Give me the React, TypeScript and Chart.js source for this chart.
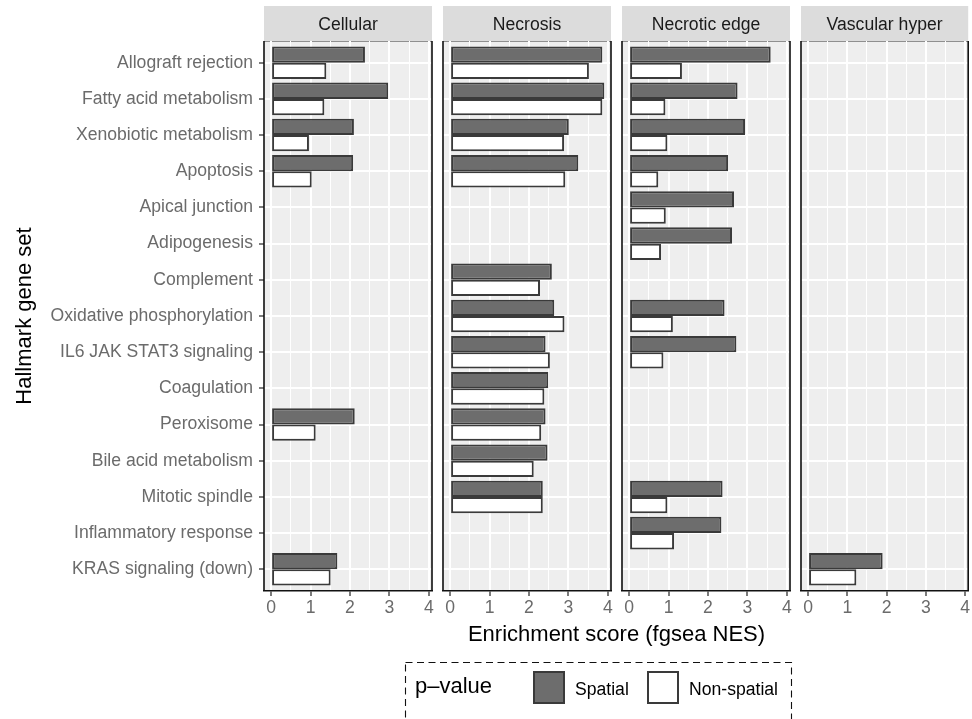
import React, { useEffect, useRef } from 'react';
import { Chart, registerables } from 'chart.js';

Chart.register(...registerables);

// ---------------- data ----------------
const categories = [
  'Allograft rejection',
  'Fatty acid metabolism',
  'Xenobiotic metabolism',
  'Apoptosis',
  'Apical junction',
  'Adipogenesis',
  'Complement',
  'Oxidative phosphorylation',
  'IL6 JAK STAT3 signaling',
  'Coagulation',
  'Peroxisome',
  'Bile acid metabolism',
  'Mitotic spindle',
  'Inflammatory response',
  'KRAS signaling (down)',
];

const facetTitles = ['Cellular', 'Necrosis', 'Necrotic edge', 'Vascular hyper'];
const seriesLabels = ['Spatial', 'Non-spatial'];

const cellularSpatial = [2.38, 2.97, 2.1, 2.08, null, null, null, null, null, null, 2.12, null, null, null, 1.68];
const cellularNonSpatial = [1.4, 1.35, 0.96, 1.03, null, null, null, null, null, null, 1.13, null, null, null, 1.51];

const necrosisSpatial = [3.86, 3.91, 3.01, 3.25, null, null, 2.58, 2.64, 2.42, 2.49, 2.42, 2.47, 2.35, null, null];
const necrosisNonSpatial = [3.52, 3.86, 2.89, 2.92, null, null, 2.28, 2.9, 2.53, 2.39, 2.31, 2.12, 2.35, null, null];

const edgeSpatial = [3.59, 2.75, 2.94, 2.51, 2.66, 2.61, null, 2.42, 2.72, null, null, null, 2.37, 2.34, null];
const edgeNonSpatial = [1.34, 0.92, 0.97, 0.74, 0.93, 0.81, null, 1.11, 0.87, null, null, null, 0.97, 1.14, null];

const vascularSpatial = [null, null, null, null, null, null, null, null, null, null, null, null, null, null, 1.9];
const vascularNonSpatial = [null, null, null, null, null, null, null, null, null, null, null, null, null, null, 1.23];

const xMajorTicks = [0, 1, 2, 3, 4];
const xMinorTicks = [0.5, 1.5, 2.5, 3.5];

const xTitle = 'Enrichment score (fgsea NES)';
const yTitle = 'Hallmark gene set';
const legendTitle = 'p\u2013value';

// ---------------- layout / style ----------------
const W = 972;
const H = 719;
const FONT = '"Liberation Sans", Arial, Helvetica, sans-serif';
const PANEL_TOP = 41;
const PANEL_BOTTOM = 591;
const STRIP_H = 35;
const X_AXIS_H = 30;
const panelX = [
  [264, 432],
  [443, 611],
  [622, 790],
  [801, 969],
];
const SPATIAL_FILL = '#6d6d6d';
const NON_FILL = '#ffffff';
const BAR_BORDER = '#3a3a3a';
const TICK_TEXT = '#6b6b6b';

const series = [
  [cellularSpatial, cellularNonSpatial],
  [necrosisSpatial, necrosisNonSpatial],
  [edgeSpatial, edgeNonSpatial],
  [vascularSpatial, vascularNonSpatial],
];

function toPoints(vals: (number | null)[]) {
  const out: { x: number; y: number }[] = [];
  vals.forEach((v, i) => {
    if (v !== null) out.push({ x: v, y: i });
  });
  return out;
}

const facetPlugin = {
  id: 'facet',
  beforeDraw(chart: any, _args: any, opts: any) {
    const { ctx, chartArea: a } = chart;
    ctx.save();
    ctx.fillStyle = '#eeeeee';
    ctx.fillRect(a.left, a.top, a.right - a.left, a.bottom - a.top);
    ctx.fillStyle = '#dcdcdc';
    ctx.fillRect(a.left, a.top - STRIP_H, a.right - a.left, STRIP_H);
    ctx.strokeStyle = '#8f8f8f';
    ctx.lineWidth = 1;
    ctx.beginPath();
    ctx.moveTo(a.left, a.top + 0.5);
    ctx.lineTo(a.right, a.top + 0.5);
    ctx.stroke();
    ctx.fillStyle = '#1a1a1a';
    ctx.font = `17.6px ${FONT}`;
    ctx.textAlign = 'center';
    ctx.textBaseline = 'alphabetic';
    ctx.fillText(opts.title, (a.left + a.right) / 2, a.top - STRIP_H / 2 + 6.3);
    ctx.restore();
  },
  afterDatasetsDraw(chart: any) {
    const { ctx, chartArea: a } = chart;
    ctx.save();
    ctx.strokeStyle = '#111111';
    ctx.lineWidth = 1.6;
    ctx.beginPath();
    ctx.moveTo(a.left, a.top);
    ctx.lineTo(a.left, a.bottom);
    ctx.moveTo(a.right, a.top);
    ctx.lineTo(a.right, a.bottom);
    ctx.stroke();
    ctx.restore();
  },
};

const decorPlugin = {
  id: 'decor',
  afterDraw(chart: any) {
    const ctx = chart.ctx;
    ctx.save();
    ctx.fillStyle = '#000000';
    ctx.font = `22px ${FONT}`;
    ctx.textAlign = 'center';
    ctx.textBaseline = 'alphabetic';
    ctx.fillText(xTitle, (panelX[0][0] + panelX[3][1]) / 2, 641);
    ctx.save();
    ctx.translate(31, (PANEL_TOP + PANEL_BOTTOM) / 2);
    ctx.rotate(-Math.PI / 2);
    ctx.fillText(yTitle, 0, 0);
    ctx.restore();

    // legend
    ctx.strokeStyle = '#111111';
    ctx.lineWidth = 1.1;
    ctx.setLineDash([7, 4.5]);
    ctx.strokeRect(405.5, 662.5, 386, 90);
    ctx.setLineDash([]);
    ctx.textAlign = 'left';
    ctx.font = `22px ${FONT}`;
    ctx.fillText(legendTitle, 415, 693);
    const ds = chart.data.datasets;
    const keys = [
      { x: 533, tx: 575 },
      { x: 647, tx: 689 },
    ];
    ctx.font = `17.6px ${FONT}`;
    keys.forEach((k, i) => {
      ctx.fillStyle = ds[i].backgroundColor;
      ctx.fillRect(k.x, 671, 32, 33);
      ctx.strokeStyle = ds[i].borderColor;
      ctx.lineWidth = 2;
      ctx.strokeRect(k.x + 1, 672, 30, 31);
      ctx.fillStyle = '#000000';
      ctx.fillText(ds[i].label, k.tx, 694.5);
    });
    ctx.restore();
  },
};

function makeConfig(idx: number): any {
  const first = idx === 0;
  const [left, right] = panelX[idx];
  const [sp, ns] = series[idx];
  return {
    type: 'bar',
    data: {
      datasets: [
        {
          label: seriesLabels[0],
          data: toPoints(sp),
          backgroundColor: SPATIAL_FILL,
          borderColor: BAR_BORDER,
          borderWidth: 2,
          borderSkipped: false,
          categoryPercentage: 0.9,
          barPercentage: 1,
        },
        {
          label: seriesLabels[1],
          data: toPoints(ns),
          backgroundColor: NON_FILL,
          borderColor: BAR_BORDER,
          borderWidth: 2,
          borderSkipped: false,
          categoryPercentage: 0.9,
          barPercentage: 1,
        },
      ],
    },
    options: {
      indexAxis: 'y',
      animation: false,
      responsive: false,
      devicePixelRatio: 1,
      events: [],
      layout: {
        padding: {
          left: first ? 0 : left,
          right: W - right,
          top: PANEL_TOP,
          bottom: H - PANEL_BOTTOM - X_AXIS_H,
        },
      },
      plugins: {
        legend: { display: false },
        tooltip: { enabled: false },
        facet: { title: facetTitles[idx] },
      },
      scales: {
        x: {
          type: 'linear',
          min: -0.18,
          max: 4.08,
          offset: false,
          afterBuildTicks: (s: any) => {
            s.ticks = [...xMajorTicks, ...xMinorTicks].sort((a, b) => a - b).map((v) => ({ value: v }));
          },
          afterFit: (s: any) => {
            s.height = X_AXIS_H;
          },
          ticks: {
            autoSkip: false,
            maxRotation: 0,
            minRotation: 0,
            padding: 2,
            color: TICK_TEXT,
            font: { size: 17.6, family: FONT },
            callback: (v: number) => (xMajorTicks.includes(v) ? String(v) : ''),
          },
          grid: {
            offset: false,
            color: '#ffffff',
            lineWidth: (c: any) => (c.tick && xMajorTicks.includes(c.tick.value) ? 2 : 1),
            drawTicks: true,
            tickLength: 5,
            tickWidth: 1.3,
            tickColor: (c: any) => (c.tick && xMajorTicks.includes(c.tick.value) ? '#333333' : 'rgba(0,0,0,0)'),
          },
          border: { display: true, color: '#111111', width: 1.6 },
        },
        y: {
          type: 'linear',
          min: -0.6,
          max: categories.length - 1 + 0.6,
          reverse: true,
          offset: false,
          afterBuildTicks: (s: any) => {
            s.ticks = categories.map((_, i) => ({ value: i }));
          },
          afterFit: (s: any) => {
            s.width = first ? left : 0;
          },
          ticks: {
            display: first,
            autoSkip: false,
            padding: 6,
            color: TICK_TEXT,
            font: { size: 17.6, family: FONT },
            callback: (v: number) => categories[v],
          },
          grid: {
            offset: false,
            color: '#ffffff',
            lineWidth: 2,
            drawTicks: first,
            tickLength: 5,
            tickWidth: 1.3,
            tickColor: '#333333',
          },
          border: { display: false },
        },
      },
    },
    plugins: first ? [facetPlugin, decorPlugin] : [facetPlugin],
  };
}

function Panel({ idx }: { idx: number }) {
  const ref = useRef<HTMLCanvasElement>(null);
  useEffect(() => {
    if (!ref.current) return;
    const chart = new Chart(ref.current, makeConfig(idx));
    return () => chart.destroy();
  }, [idx]);
  return (
    <canvas
      ref={ref}
      width={W}
      height={H}
      style={{ position: 'absolute', left: 0, top: 0, width: W, height: H }}
    />
  );
}

export default function App() {
  return (
    <div style={{ position: 'absolute', left: 0, top: 0, width: W, height: H, background: '#ffffff', overflow: 'hidden' }}>
      {facetTitles.map((_, i) => (
        <Panel key={i} idx={i} />
      ))}
    </div>
  );
}
